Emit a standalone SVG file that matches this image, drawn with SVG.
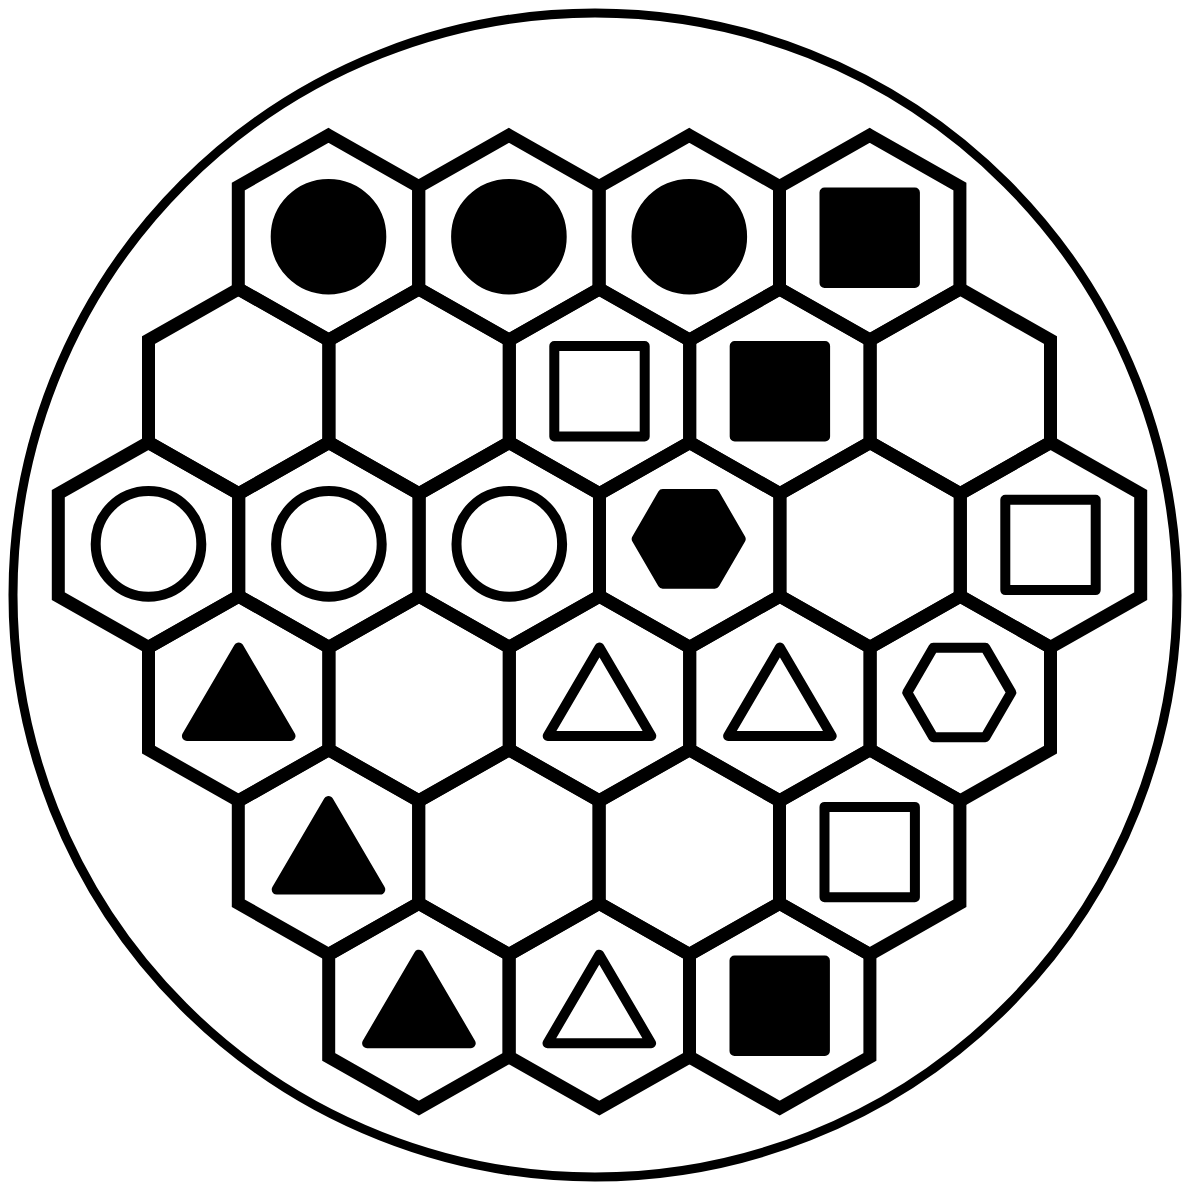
<svg xmlns="http://www.w3.org/2000/svg" xmlns:xlink="http://www.w3.org/1999/xlink" width="1185" height="1186" viewBox="0 0 1185 1186">
<style>
.cell{fill:none;stroke:#000;stroke-width:13;stroke-linejoin:miter}
.ico{stroke:#000;stroke-width:10;stroke-linejoin:round}
.f{fill:#000}
.o{fill:#fff}
.ring{fill:none;stroke:#000;stroke-width:9}
</style>
<defs>
<path id="hex" d="M0,-102.4 L90.2,-51.2 L90.2,51.2 L0,102.4 L-90.2,51.2 L-90.2,-51.2 Z"/>
<circle id="circ" cx="0" cy="-1" r="52.8"/>
<rect id="sq" x="-45.2" y="-45.2" width="90.4" height="90.4"/>
<polygon id="tri" points="0,-51 51.8,37.5 -51.8,37.5"/>
<polygon id="hexi" points="51,-6 25,-50.8 -27,-50.8 -53,-6 -27,38.8 25,38.8"/>
</defs>
<rect x="0" y="0" width="1185" height="1186" fill="#fff"/>
<g id="frame"><circle class="ring" cx="595" cy="595" r="582"/></g>
<g id="cells">
<g id="r1c1" transform="translate(328.5,237.7)"><use href="#hex" class="cell"/><use href="#circ" class="ico f"/></g>
<g id="r1c2" transform="translate(508.9,237.7)"><use href="#hex" class="cell"/><use href="#circ" class="ico f"/></g>
<g id="r1c3" transform="translate(689.3,237.7)"><use href="#hex" class="cell"/><use href="#circ" class="ico f"/></g>
<g id="r1c4" transform="translate(869.7,237.7)"><use href="#hex" class="cell"/><use href="#sq" class="ico f"/></g>
<g id="r2c1" transform="translate(238.7,391.3)"><use href="#hex" class="cell"/></g>
<g id="r2c2" transform="translate(419.1,391.3)"><use href="#hex" class="cell"/></g>
<g id="r2c3" transform="translate(599.5,391.3)"><use href="#hex" class="cell"/><use href="#sq" class="ico o"/></g>
<g id="r2c4" transform="translate(779.9,391.3)"><use href="#hex" class="cell"/><use href="#sq" class="ico f"/></g>
<g id="r2c5" transform="translate(960.3,391.3)"><use href="#hex" class="cell"/></g>
<g id="r3c1" transform="translate(148.5,544.9)"><use href="#hex" class="cell"/><use href="#circ" class="ico o"/></g>
<g id="r3c2" transform="translate(328.9,544.9)"><use href="#hex" class="cell"/><use href="#circ" class="ico o"/></g>
<g id="r3c3" transform="translate(509.3,544.9)"><use href="#hex" class="cell"/><use href="#circ" class="ico o"/></g>
<g id="r3c4" transform="translate(689.7,544.9)"><use href="#hex" class="cell"/><use href="#hexi" class="ico f"/></g>
<g id="r3c5" transform="translate(870.1,544.9)"><use href="#hex" class="cell"/></g>
<g id="r3c6" transform="translate(1050.5,544.9)"><use href="#hex" class="cell"/><use href="#sq" class="ico o"/></g>
<g id="r4c1" transform="translate(238.7,698.5)"><use href="#hex" class="cell"/><use href="#tri" class="ico f"/></g>
<g id="r4c2" transform="translate(419.1,698.5)"><use href="#hex" class="cell"/></g>
<g id="r4c3" transform="translate(599.5,698.5)"><use href="#hex" class="cell"/><use href="#tri" class="ico o"/></g>
<g id="r4c4" transform="translate(779.9,698.5)"><use href="#hex" class="cell"/><use href="#tri" class="ico o"/></g>
<g id="r4c5" transform="translate(960.3,698.5)"><use href="#hex" class="cell"/><use href="#hexi" class="ico o"/></g>
<g id="r5c1" transform="translate(328.5,852.1)"><use href="#hex" class="cell"/><use href="#tri" class="ico f"/></g>
<g id="r5c2" transform="translate(508.9,852.1)"><use href="#hex" class="cell"/></g>
<g id="r5c3" transform="translate(689.3,852.1)"><use href="#hex" class="cell"/></g>
<g id="r5c4" transform="translate(869.7,852.1)"><use href="#hex" class="cell"/><use href="#sq" class="ico o"/></g>
<g id="r6c1" transform="translate(418.9,1005.7)"><use href="#hex" class="cell"/><use href="#tri" class="ico f"/></g>
<g id="r6c2" transform="translate(599.3,1005.7)"><use href="#hex" class="cell"/><use href="#tri" class="ico o"/></g>
<g id="r6c3" transform="translate(779.7,1005.7)"><use href="#hex" class="cell"/><use href="#sq" class="ico f"/></g>
</g>
<g id="connectors"></g>
</svg>
